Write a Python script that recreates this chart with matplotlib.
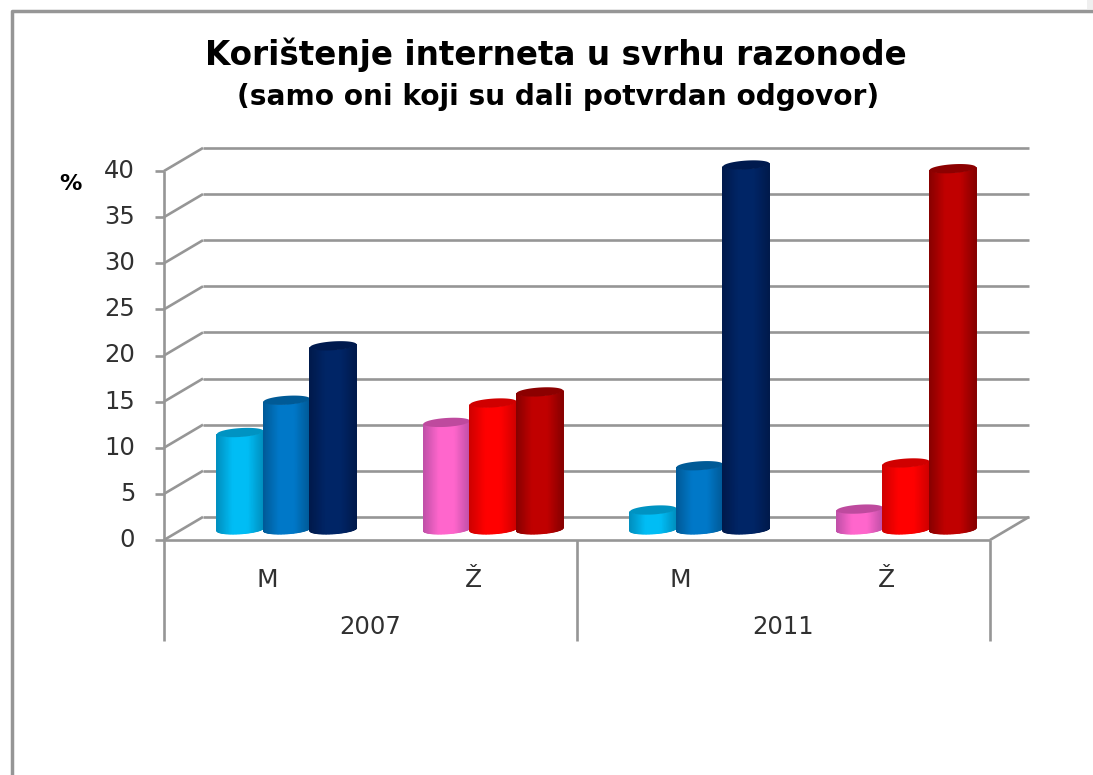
"""
Korištenje interneta - 3D cylinder bars drawn on a flat axes
"""

import numpy as np
import matplotlib
matplotlib.use("Agg")
import matplotlib.pyplot as plt
from matplotlib.colors import LinearSegmentedColormap
from matplotlib.patches import Rectangle

plt.rcParams['font.family'] = ['DejaVu Sans']

years = ['2007', '2011']
genders = ['M', 'Ž', 'M', 'Ž']
y_ticks = [0, 5, 10, 15, 20, 25, 30, 35, 40]

# one list per bar position inside a group
first_bar = [10.5, 11.6, 2.1, 2.2]
second_bar = [14.0, 13.7, 6.9, 7.2]
third_bar = [19.9, 14.9, 39.5, 39.1]

# edge, centre, top ellipse
male_colors = [('#0090C0', '#00BDF5', '#0093C2'),
               ('#005A98', '#0078C8', '#005A96'),
               ('#001A4C', '#002566', '#001A4E')]
female_colors = [('#C050A8', '#FF66CC', '#BE4A9E'),
                 ('#D00000', '#FF0000', '#D00000'),
                 ('#880000', '#C00000', '#8C0000')]

W, H = 1093, 775
GREY = '#969696'

fig = plt.figure(figsize=(W / 100, H / 100), dpi=100)
fig.patch.set_facecolor('white')

# axes box = front of the floor and the front left edge
ax = fig.add_axes([164 / W, 1 - 540 / H, 826 / W, 369 / H])
ax.axis('off')

depth_x = 39 / 206.5
depth_y = 2.5
bar_w = 46.5 / 206.5
base = 1.15


def grid_line(xs, ys, lw=1.9, color=GREY):
    ax.plot(xs, ys, color=color, lw=lw, clip_on=False, zorder=1,
            solid_capstyle='butt')


# walls and floor
for t in y_ticks:
    grid_line([-9 / 206.5, 0], [t, t])
    grid_line([0, depth_x], [t, t + depth_y])
    grid_line([depth_x, 4 + depth_x], [t + depth_y, t + depth_y])
    ax.text(-29 / 206.5, t, str(t), ha='right', va='center', fontsize=17.5,
            color='#303030', clip_on=False)
grid_line([0, 4], [0, 0])
grid_line([4, 4 + depth_x], [0, depth_y])
grid_line([0, 0], [40, -11])
grid_line([2, 2], [0, -11])
grid_line([4, 4], [0, -11])


def cylinder(cx, value, colors):
    edge, centre, top_col = colors
    cmap = LinearSegmentedColormap.from_list('c', [edge, centre, centre, edge])
    rx = bar_w / 2
    ry = 0.48
    tilt = 0.16
    top = base + value

    # front half of the side, shaded across its width
    t = np.linspace(np.pi, 2 * np.pi, 50)
    xs = cx + rx * np.cos(t)
    low = base + ry * np.sin(t) + tilt * np.cos(t)
    up = top + ry * np.sin(t) + tilt * np.cos(t)
    shade = (xs - xs[0]) / (xs[-1] - xs[0])
    ax.pcolormesh(np.vstack([xs, xs]), np.vstack([low, up]), np.vstack([shade, shade]),
                  cmap=cmap, vmin=0, vmax=1, shading='gouraud', zorder=3, clip_on=False)

    t = np.linspace(0, 2 * np.pi, 80)
    ax.fill(cx + rx * np.cos(t), top + ry * np.sin(t) + tilt * np.cos(t),
            color=top_col, zorder=3, clip_on=False, lw=0)


offsets = [-bar_w, 0, bar_w]
group_centers = [0.5 + depth_x / 2 + i for i in range(4)]
for i, gc in enumerate(group_centers):
    palette = male_colors if i % 2 == 0 else female_colors
    for off, vals, cols in zip(offsets, [first_bar, second_bar, third_bar], palette):
        cylinder(gc + off, vals[i], cols)

ax.set_xlim(0, 4)
ax.set_ylim(0, 40)

# category labels
for i, g in enumerate(genders):
    ax.text(i + 0.5, -4.3, g, ha='center', va='center', fontsize=18, color='#303030')
for i, y in enumerate(years):
    ax.text(2 * i + 1, -9.4, y, ha='center', va='center', fontsize=17.5, color='#303030')

ax.text(-94 / 206.5, 38.6, '%', ha='center', va='center', fontsize=16,
        fontweight='bold', color='black')

# titles
fig.text(556 / W, 1 - 55 / H, 'Korištenje interneta u svrhu razonode', ha='center',
         va='center', fontsize=23.5, fontweight='bold', color='black')
fig.text(558 / W, 1 - 97 / H, '(samo oni koji su dali potvrdan odgovor)', ha='center',
         va='center', fontsize=20.2, fontweight='bold', color='black')

# chart frame and the scrap of grey in the corner
fig.add_artist(plt.Line2D([12 / W, 12 / W, 1], [0, 1 - 11 / H, 1 - 11 / H],
                          color=GREY, lw=2.5))
fig.add_artist(Rectangle((1087 / W, 1 - 9 / H), 6 / W, 9 / H, transform=fig.transFigure,
                         facecolor='#EFEFEF', edgecolor='none'))

fig.savefig('out.png', dpi=100, facecolor='white')
